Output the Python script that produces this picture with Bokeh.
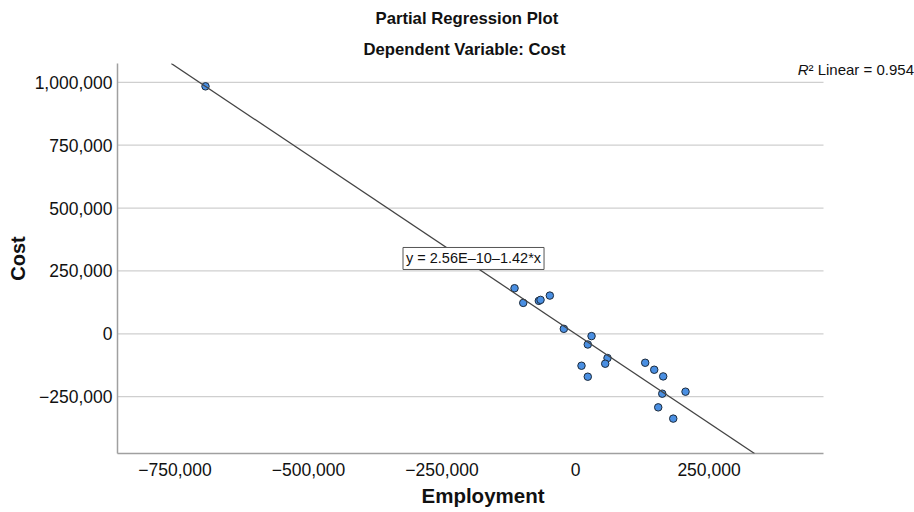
from bokeh.plotting import figure
from bokeh.models import Label, Slope, Title, FixedTicker, Range1d
from bokeh.embed import file_html
from bokeh.resources import INLINE

# ---- data ----
employment = [-692900, -114200, -97900, -68700, -65500, -48100, -21900,
              30000, 23000, 11200, 23000, 59900, 55600, 130500, 147400,
              164200, 162400, 206000, 154900, 183000]
cost = [984100, 181300, 123000, 131000, 134900, 152000, 19800,
        -9100, -42500, -127000, -170600, -96400, -119000, -115100, -142900,
        -169400, -238100, -230200, -292500, -337300]

x_ticks = [-750000, -500000, -250000, 0, 250000]
y_ticks = [-250000, 0, 250000, 500000, 750000, 1000000]

fit_intercept = 2.56e-10
fit_slope = -1.42
r_squared = 0.954

title_main = "Partial Regression Plot"
title_sub = "Dependent Variable: Cost"
x_label = "Employment"
y_label = "Cost"

# plot-area extents (the drawn axis/grids end at x_area_end; the canvas
# continues to the right so the R² note can sit outside the plot area)
x_start, x_area_end, x_canvas_end = -857700, 464400, 634800
y_start, y_end = -476000, 1075000

FONT = "Liberation Sans"


def fmt(v):
    return f"{v:,}".replace("-", "\u2212")


p = figure(width=914, height=512, output_backend="svg", toolbar_location=None,
           x_range=Range1d(x_start, x_canvas_end), y_range=Range1d(y_start, y_end),
           min_border_left=117, min_border_right=0, min_border_top=62,
           min_border_bottom=59, background_fill_color="white",
           border_fill_color="white", outline_line_color=None)

# titles (first added sits nearest the frame)
p.add_layout(Title(text=title_sub, align="left", text_font=FONT,
                   text_font_size="16.7px", text_font_style="bold",
                   text_color="#111111", standoff=9, offset=246), "above")
p.add_layout(Title(text=title_main, align="left", text_font=FONT,
                   text_font_size="16.7px", text_font_style="bold",
                   text_color="#111111", standoff=12, offset=258), "above")

# axes
for ax, ticks in ((p.xaxis[0], x_ticks), (p.yaxis[0], y_ticks)):
    ax.ticker = FixedTicker(ticks=ticks)
    ax.major_label_overrides = {v: fmt(v) for v in ticks}
    ax.major_tick_in = 0
    ax.major_tick_out = 0
    ax.minor_tick_in = 0
    ax.minor_tick_out = 0
    ax.axis_line_color = "#a0a0a0"
    ax.axis_line_width = 1.5
    ax.major_label_text_font = FONT
    ax.major_label_text_font_size = "17.5px"
    ax.major_label_text_color = "#111111"
    ax.axis_label_text_font = FONT
    ax.axis_label_text_font_size = "20px"
    ax.axis_label_text_font_style = "bold"
    ax.axis_label_text_color = "#111111"

p.xaxis.bounds = (x_start, x_area_end)
p.yaxis.axis_label = y_label
p.xaxis.major_label_standoff = 9
p.yaxis.major_label_standoff = 5
p.yaxis.axis_label_standoff = 3

# x axis title placed under the plot area (not the wider canvas)
p.add_layout(Title(text=x_label, align="left", text_font=FONT,
                   text_font_size="20.5px", text_font_style="bold",
                   text_line_height=1.0, text_color="#111111", standoff=7,
                   offset=304), "below")

p.xgrid.visible = False
p.ygrid.visible = False

# horizontal grid lines limited to the plot area
p.segment(x0=[x_start] * len(y_ticks), x1=[x_area_end] * len(y_ticks),
          y0=y_ticks, y1=y_ticks, line_color="#cfcfcf", line_width=1.3)

# fit line
p.add_layout(Slope(gradient=fit_slope, y_intercept=fit_intercept,
                   line_color="#444444", line_width=1.3))

# points
p.scatter(employment, cost, size=7.5, fill_color="#4a8fe2",
          line_color="#1c2b3c", line_width=1)

# equation box
eq_text = f"y = {fit_intercept:.2E}\u2013{abs(fit_slope):.2f}*x".replace("-", "\u2013")
p.add_layout(Label(x=-191000, y=299600, text=eq_text, text_align="center",
                   text_baseline="middle", text_font=FONT, text_font_size="14.5px",
                   text_color="#111111", border_line_color="#555555",
                   border_line_width=1, background_fill_color="white",
                   padding=3))

# R squared note
p.add_layout(Label(x=436300, y=1051600, text="R", text_align="right",
                   text_baseline="middle", text_font=FONT, text_font_size="15px",
                   text_font_style="italic", text_color="#111111"))
p.add_layout(Label(x=436300, y=1051600, text=f"\u00b2 Linear = {r_squared:.3f}",
                   text_align="left", text_baseline="middle", text_font=FONT,
                   text_font_size="15px", text_color="#111111"))

open("out.html", "w").write(file_html(p, INLINE))
